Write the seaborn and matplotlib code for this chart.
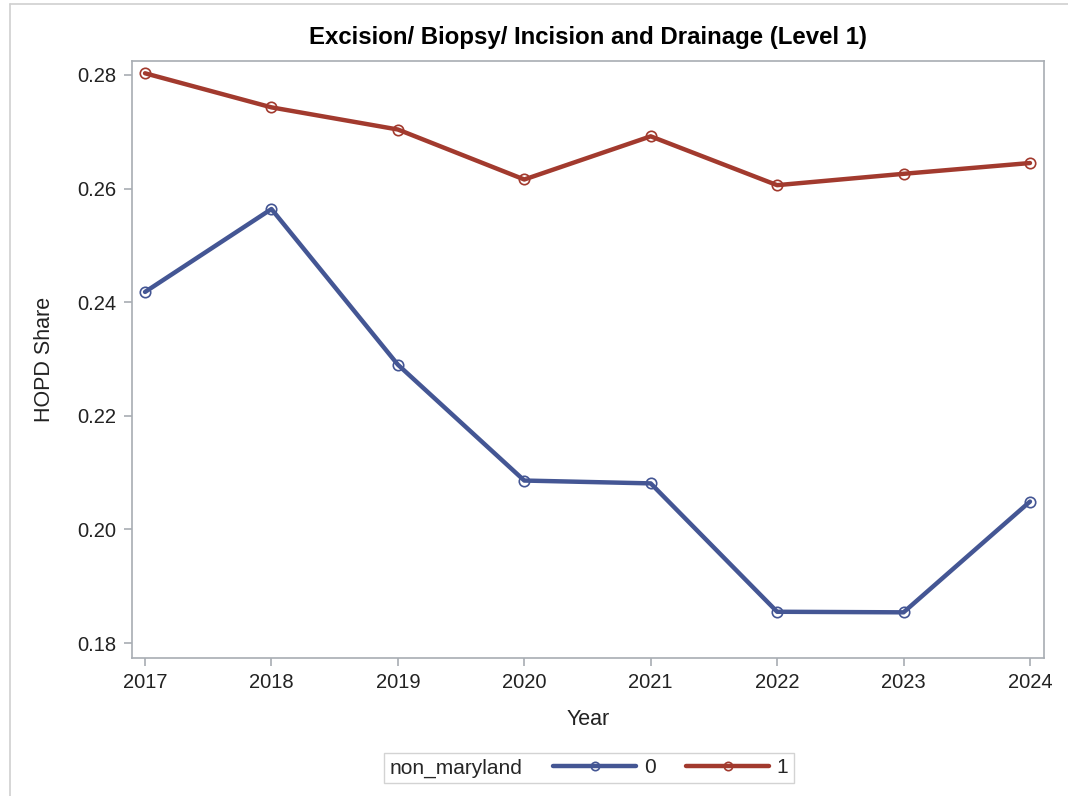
import matplotlib
matplotlib.use("Agg")
import matplotlib.pyplot as plt
import seaborn as sns
import pandas as pd
from matplotlib.lines import Line2D

years = [2017, 2018, 2019, 2020, 2021, 2022, 2023, 2024]
share_0 = [0.2418, 0.2564, 0.2290, 0.2086, 0.2081, 0.1855, 0.1854, 0.2049]
share_1 = [0.2803, 0.2743, 0.2704, 0.2616, 0.2692, 0.2606, 0.2626, 0.2645]
groups = ["0", "1"]
colors = ["#445694", "#A23A2E"]
y_ticks = [0.18, 0.20, 0.22, 0.24, 0.26, 0.28]

df = pd.DataFrame({
    "Year": years * 2,
    "HOPD Share": share_0 + share_1,
    "non_maryland": [groups[0]] * len(years) + [groups[1]] * len(years),
})

sns.set_theme(style="white")
plt.rcParams["font.family"] = ["Liberation Sans", "DejaVu Sans"]

fig = plt.figure(figsize=(10.68, 7.96), dpi=100)
ax = fig.add_axes([132 / 1068, 1 - 658 / 796, (1044 - 132) / 1068, (658 - 61) / 796])

sns.lineplot(data=df, x="Year", y="HOPD Share", hue="non_maryland",
             palette=dict(zip(groups, colors)), hue_order=groups,
             marker="o", markersize=7.5, markerfacecolor="none",
             markeredgewidth=1.2, linewidth=3.2, ax=ax, legend=False)
for ln in ax.get_lines():
    ln.set_markeredgecolor(ln.get_color())
    ln.set_markerfacecolor("none")

ax.set_xlim(2016.897, 2024.111)
ax.set_ylim(0.17736, 0.28246)
ax.set_xticks(years)
ax.set_xticklabels([str(y) for y in years])
ax.set_yticks(y_ticks)
ax.set_yticklabels([f"{v:.2f}" for v in y_ticks])

spine_c = "#A8ADB3"
for s in ax.spines.values():
    s.set_color(spine_c)
    s.set_linewidth(1.2)
ax.tick_params(axis="both", which="major", direction="out", length=6, width=1.2,
               color=spine_c, labelsize=14.5, labelcolor="#222222", pad=5)
ax.tick_params(left=True, bottom=True)

ax.set_xlabel("Year", fontsize=15.5, color="#222222", labelpad=12)
ax.set_ylabel("HOPD Share", fontsize=15.5, color="#222222", labelpad=16)
ax.set_title("Excision/ Biopsy/ Incision and Drainage (Level 1)", fontsize=17.3,
             fontweight="bold", color="#000000", pad=12)

handles = [Line2D([], [], color=c, linewidth=3.2, marker="o", markersize=6,
                  markerfacecolor="none", markeredgewidth=1.2) for c in colors]
leg = fig.legend(handles, groups, title="non_maryland", loc="center",
                 bbox_to_anchor=(589 / 1068, 1 - 768 / 796), ncol=2,
                 frameon=True, fontsize=15, title_fontsize=15,
                 handlelength=4.0, handletextpad=0.35, columnspacing=0.3,
                 borderpad=0.25, fancybox=False)
leg.get_frame().set_edgecolor("#C8C8C8")
leg.get_frame().set_linewidth(1.0)
c = leg.get_children()[0]
title = c.get_children()[0]
hpack = c.get_children()[1]
c._children = [hpack]
hpack._children = [title] + hpack.get_children()
hpack.sep = 22

# outer border (left and top)
bc = "#D0D0D0"
fig.add_artist(Line2D([10 / 1068, 10 / 1068], [0, 1 - 4 / 796], color=bc, lw=1.2,
                      transform=fig.transFigure))
fig.add_artist(Line2D([10 / 1068, 1], [1 - 4 / 796, 1 - 4 / 796], color=bc, lw=1.2,
                      transform=fig.transFigure))

fig.savefig("out.png", dpi=100, facecolor="white")
